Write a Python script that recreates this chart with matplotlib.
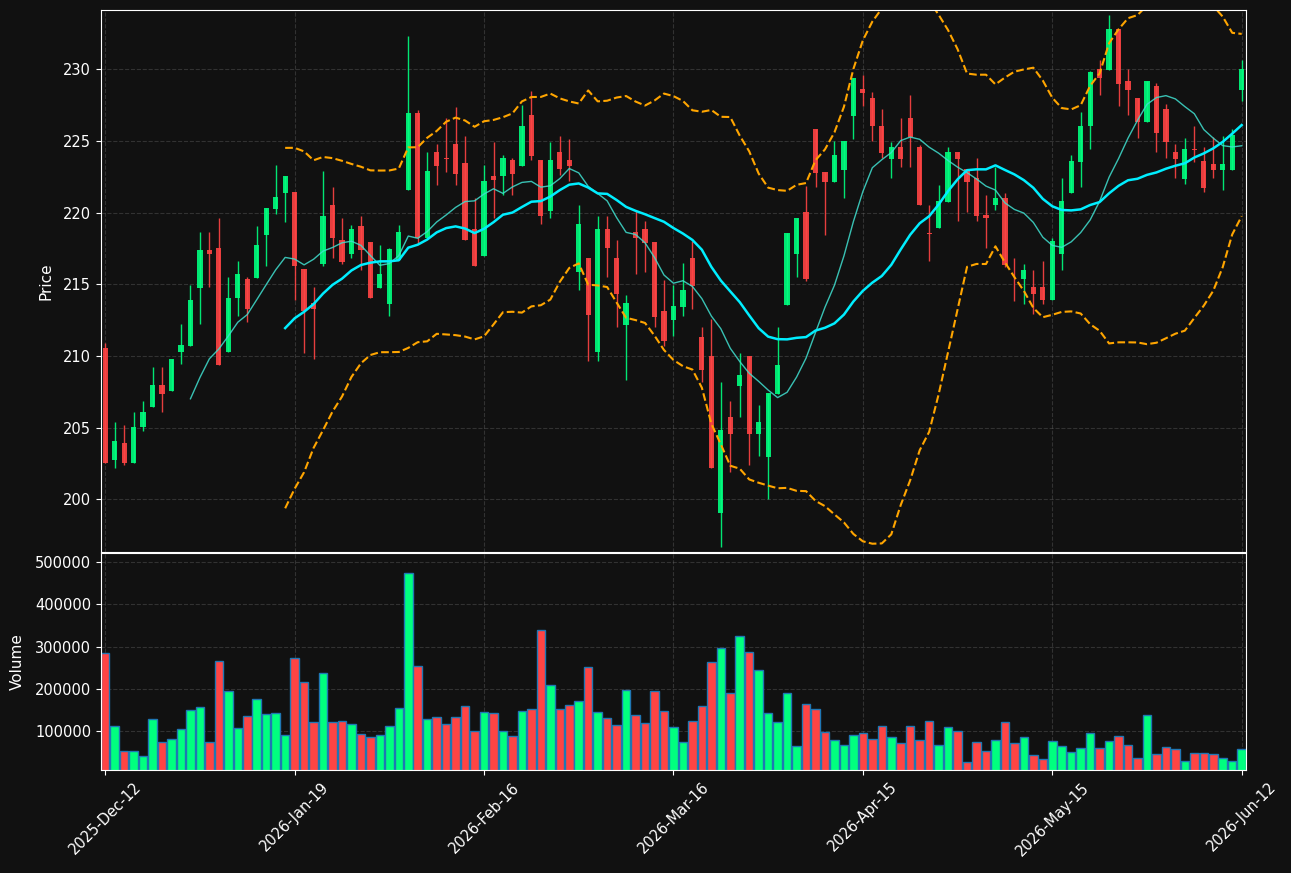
import numpy as np
import pandas as pd
import matplotlib
matplotlib.use('Agg')
import matplotlib.pyplot as plt

# OHLC, one entry per session (121 sessions)
opens = [210.57, 202.76, 203.93, 202.57, 205.02, 206.47, 207.98, 207.59, 210.31, 210.72,
         214.77, 217.41, 217.53, 210.31, 214.02, 215.37, 215.47, 218.48, 220.27, 221.39,
         221.44, 216.08, 213.73, 216.42, 220.54, 218.09, 217.12, 219.09, 217.97, 214.77,
         213.65, 216.71, 221.61, 226.99, 218.26, 224.25, 223.82, 224.81, 223.48, 218.87,
         217.00, 222.58, 222.53, 223.69, 223.28, 226.82, 223.69, 220.15, 224.25, 223.69,
         215.88, 216.85, 210.31, 218.87, 216.85, 212.20, 218.65, 218.87, 217.97, 213.14,
         212.54, 213.43, 216.85, 211.32, 210.01, 199.08, 205.75, 207.93, 210.01, 204.58,
         202.96, 207.37, 213.58, 217.12, 220.06, 225.85, 222.85, 222.17, 223.01, 226.77,
         228.64, 228.01, 226.05, 223.77, 224.59, 226.60, 224.59, 218.60, 218.96, 220.78,
         224.25, 223.04, 222.41, 219.84, 220.57, 221.00, 216.03, 215.40, 214.82, 214.82,
         213.94, 217.12, 221.41, 223.55, 226.02, 230.02, 229.98, 232.81, 229.20, 228.01,
         226.34, 228.84, 227.24, 224.25, 222.38, 224.45, 223.62, 223.40, 223.01, 223.01,
         228.59]
highs = [210.90, 205.41, 205.19, 206.09, 206.84, 209.24, 209.24, 209.80, 212.22, 214.94,
         218.65, 218.65, 219.62, 215.50, 216.61, 215.50, 219.06, 220.32, 223.33, 222.58,
         221.44, 216.08, 214.79, 222.92, 221.80, 219.62, 219.18, 219.74, 217.97, 217.73,
         217.53, 219.18, 232.33, 227.14, 224.23, 224.81, 226.58, 227.36, 225.34, 221.05,
         223.31, 224.91, 224.03, 223.79, 227.50, 228.47, 223.69, 224.91, 225.34, 225.12,
         220.52, 216.85, 219.74, 219.74, 218.09, 214.23, 220.15, 219.40, 217.97, 215.33,
         214.94, 216.47, 218.02, 212.00, 212.56, 208.20, 206.86, 210.21, 210.01, 206.57,
         207.42, 212.00, 218.60, 219.64, 221.85, 225.85, 222.85, 225.00, 225.00, 229.39,
         229.61, 228.40, 227.21, 224.96, 226.58, 228.20, 224.76, 220.57, 221.97, 224.57,
         224.25, 223.04, 223.79, 221.22, 223.18, 221.41, 216.85, 216.39, 215.98, 216.64,
         218.21, 222.41, 224.03, 227.02, 229.90, 230.63, 233.78, 232.81, 230.02, 228.01,
         229.20, 229.05, 227.57, 224.79, 225.20, 226.02, 224.57, 225.32, 225.37, 225.85,
         230.63]
lows = [202.57, 202.20, 202.37, 202.57, 204.80, 206.47, 206.09, 207.59, 209.43, 210.72,
        212.22, 214.79, 209.41, 210.31, 212.78, 212.37, 215.47, 216.27, 219.93, 219.38,
        213.92, 210.21, 209.77, 216.25, 216.81, 216.44, 216.83, 216.03, 214.02, 214.77,
        212.78, 216.71, 221.61, 217.92, 218.26, 221.97, 222.87, 221.97, 218.07, 216.25,
        217.00, 219.62, 221.22, 221.22, 223.28, 223.65, 219.21, 219.62, 222.63, 222.19,
        214.62, 209.63, 209.63, 215.50, 212.00, 208.32, 215.71, 215.88, 212.00, 210.69,
        211.42, 212.78, 213.31, 208.20, 202.20, 196.67, 201.89, 205.72, 202.37, 203.00,
        200.02, 207.37, 213.58, 215.54, 215.25, 221.78, 218.43, 222.17, 221.00, 225.17,
        227.43, 225.00, 223.79, 222.41, 223.16, 223.18, 220.57, 216.64, 218.96, 220.78,
        219.43, 220.06, 219.43, 217.56, 220.18, 216.20, 213.82, 213.60, 212.97, 213.60,
        213.94, 216.00, 221.41, 221.78, 224.42, 228.20, 229.98, 227.43, 226.80, 225.20,
        226.34, 224.23, 223.79, 222.41, 222.00, 223.55, 221.44, 222.41, 221.56, 223.01,
        227.79]
closes = [202.57, 204.07, 202.57, 205.04, 206.11, 207.98, 207.37, 209.80, 210.77, 213.92,
          217.41, 217.15, 209.41, 214.07, 215.74, 213.31, 217.75, 220.32, 221.10, 222.58,
          216.25, 213.12, 213.31, 219.76, 218.26, 216.59, 218.87, 217.39, 214.02, 215.74,
          217.48, 218.65, 226.99, 218.21, 222.92, 223.28, 223.76, 222.70, 218.07, 216.25,
          222.24, 222.31, 223.79, 222.72, 226.05, 223.98, 219.74, 223.69, 223.06, 223.28,
          219.21, 212.90, 218.87, 217.51, 214.36, 213.70, 218.26, 217.92, 212.76, 211.06,
          213.51, 214.62, 214.89, 209.04, 202.20, 204.85, 204.58, 208.68, 204.58, 205.41,
          207.42, 209.38, 218.60, 219.64, 215.40, 222.80, 222.17, 224.03, 225.00, 229.39,
          228.37, 226.02, 224.20, 224.59, 223.77, 225.29, 220.57, 218.55, 220.83, 224.25,
          223.77, 222.17, 219.79, 219.60, 221.00, 216.37, 215.98, 216.00, 214.33, 213.94,
          218.04, 220.83, 223.62, 226.05, 229.83, 229.37, 232.81, 229.01, 228.59, 226.34,
          229.20, 225.56, 224.96, 223.77, 224.45, 224.40, 221.75, 223.01, 223.40, 225.42,
          230.02]
volumes = [285000, 112000, 53000, 53000, 41000, 128000, 74000, 81000, 105000, 150000,
           157000, 74000, 266000, 195000, 107000, 136000, 176000, 140000, 143000, 91000,
           273000, 216000, 121000, 237000, 121000, 124000, 117000, 93000, 86000, 91000,
           112000, 155000, 474000, 254000, 128000, 133000, 117000, 133000, 159000, 100000,
           145000, 143000, 100000, 88000, 147000, 152000, 339000, 209000, 152000, 162000,
           171000, 252000, 145000, 131000, 114000, 197000, 138000, 119000, 195000, 147000,
           110000, 74000, 124000, 159000, 263000, 297000, 190000, 325000, 287000, 245000,
           143000, 121000, 190000, 65000, 164000, 152000, 98000, 79000, 67000, 91000,
           95000, 81000, 112000, 86000, 72000, 112000, 79000, 124000, 67000, 110000,
           100000, 27000, 74000, 53000, 79000, 121000, 72000, 86000, 43000, 34000,
           76000, 65000, 50000, 60000, 95000, 60000, 76000, 88000, 67000, 36000,
           138000, 46000, 62000, 57500, 29000, 48000, 48000, 46000, 36000, 29000,
           57500]
tick_labels = ['2025-Dec-12', '2026-Jan-19', '2026-Feb-16', '2026-Mar-16',
               '2026-Apr-15', '2026-May-15', '2026-Jun-12']

df = pd.DataFrame({'open': opens, 'high': highs, 'low': lows,
                   'close': closes, 'volume': volumes})
df['ma10'] = df['close'].rolling(10).mean()
df['ma20'] = df['close'].rolling(20).mean()
std20 = df['close'].rolling(20).std()
df['upper'] = df['ma20'] + 2 * std20
df['lower'] = df['ma20'] - 2 * std20

x = np.arange(len(df))
up = df['close'] >= df['open']
green = '#00ff7f'
red = '#ff4444'
bg = '#111111'

fig = plt.figure(figsize=(12.91, 8.73), dpi=100, facecolor=bg)
ax = fig.add_axes([0.0782, 0.3677, 0.8869, 0.6209])
axv = fig.add_axes([0.0782, 0.1180, 0.8869, 0.2486], sharex=ax)

for a in (ax, axv):
    a.set_facecolor(bg)
    for s in a.spines.values():
        s.set_color('white')
    a.tick_params(colors='white', labelsize=10.5)
    a.grid(True, color='gray', alpha=0.3, linestyle='--', linewidth=0.8)
    a.set_axisbelow(True)

# candles
colors = np.where(up, green, red)
body_lo = np.minimum(df['open'], df['close'])
body_h = (df['open'] - df['close']).abs().clip(lower=0.06)
ax.vlines(x, df['low'], df['high'], colors=colors, linewidth=1, alpha=0.9)
ax.bar(x, body_h, width=0.55, bottom=body_lo, color=colors, alpha=0.9, linewidth=0)

ax.plot(x, df['ma10'], color='#40e0d0', linewidth=1, alpha=0.85)
ax.plot(x, df['ma20'], color='#00eeff', linewidth=1.8)
ax.plot(x, df['upper'], color='orange', linestyle='--', linewidth=1.5)
ax.plot(x, df['lower'], color='orange', linestyle='--', linewidth=1.5)

ax.set_ylim(196.33, 234.15)
ax.set_yticks([200, 205, 210, 215, 220, 225, 230])
ax.set_ylabel('Price', color='white', fontsize=11, labelpad=7)
ax.tick_params(axis='x', labelbottom=False, length=0)

# volume
axv.bar(x, df['volume'], width=0.9, color=colors, edgecolor='#1f77b4', linewidth=1)
axv.set_ylim(df['volume'].min() * 0.31, df['volume'].max() * 1.1)
axv.set_yticks([100000, 200000, 300000, 400000, 500000])
axv.ticklabel_format(axis='y', style='plain')
axv.set_ylabel('Volume', color='white', fontsize=11, labelpad=7)

axv.set_xlim(-0.45, len(df) - 1 + 0.45)
axv.set_xticks(x[::20])
axv.set_xticklabels(tick_labels, rotation=45)

fig.savefig('out.png', facecolor=bg)
